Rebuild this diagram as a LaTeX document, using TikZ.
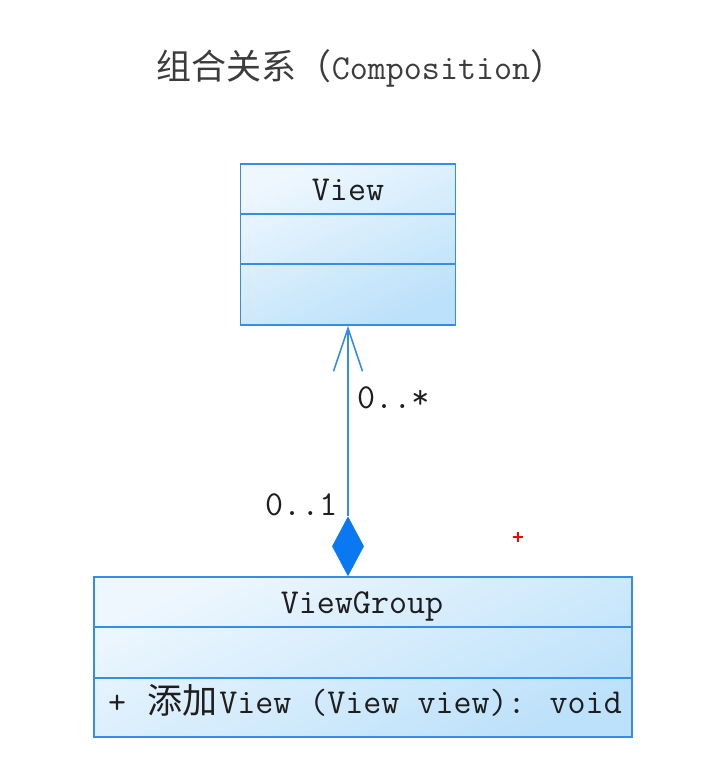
\documentclass[tikz,border=0pt]{standalone}
\usepackage{fontspec}
\newfontfamily\cjk{Noto Sans CJK SC}
\usetikzlibrary{shapes.geometric,arrows.meta,calc}
\definecolor{umlline}{RGB}{55,140,230}
\definecolor{umldiam}{RGB}{10,120,240}
\definecolor{filltop}{RGB}{238,247,254}
\definecolor{fillbot}{RGB}{188,225,250}
\definecolor{txt}{RGB}{30,30,30}
\definecolor{titletxt}{RGB}{60,60,60}
\tikzset{
  classbox/.style={rectangle, draw=umlline, line width=1.6pt, top color=filltop, bottom color=fillbot, shading angle=25, inner sep=0pt},
  divider/.style={draw=umlline, line width=1.6pt},
  umltext/.style={font=\ttfamily\fontsize{35}{40}\selectfont, text=txt, inner sep=0pt},
  titletext/.style={font=\ttfamily\fontsize{35}{40}\selectfont, text=titletxt, inner sep=0pt},
  assoc/.style={draw=umlline, line width=1.8pt, -{Straight Barb[length=43pt, width=29pt, line width=1.6pt]}},
  compdiamond/.style={diamond, fill=umldiam, draw=none, inner sep=0pt, minimum width=32pt, minimum height=60pt, aspect=0.53},
}
\begin{document}
\begin{tikzpicture}[x=1pt,y=-1pt]
\useasboundingbox (0,0) rectangle (703,770);
% title
\node[titletext, anchor=base] (title) at (361,80) {{\cjk 组合关系（}Composition{\cjk ）}};
% View class
\node[classbox, minimum width=215pt, minimum height=161pt] (view) at (348,244.5) {};
\draw[divider] (view.west |- 0,214) coordinate (vd1a) -- (view.east |- 0,214) coordinate (vd1b);
\draw[divider] (view.west |- 0,264) coordinate (vd2a) -- (view.east |- 0,264) coordinate (vd2b);
\node[umltext, anchor=base] (viewname) at (348,200) {View};
% ViewGroup class
\node[classbox, minimum width=538pt, minimum height=160pt] (vg) at (363,657) {};
\draw[divider] (vg.west |- 0,627) coordinate (gd1a) -- (vg.east |- 0,627) coordinate (gd1b);
\draw[divider] (vg.west |- 0,678) coordinate (gd2a) -- (vg.east |- 0,678) coordinate (gd2b);
\node[umltext, anchor=base] (vgname) at (362,613) {ViewGroup};
\node[umltext, anchor=base west] (vgop) at (108,713) {+ \hspace{3pt}{\cjk\fontsize{35}{40}\selectfont 添加}\hspace{2pt}View (View view): void};
% composition
\node[compdiamond, anchor=south] (dia) at (348,576.5) {};
\draw[assoc] (dia.north) -- (view.south -| dia.north);
\node[umltext, anchor=base west] (mult1) at (357,408) {0..*};
\node[umltext, anchor=base west] (mult2) at (265,515) {0..1};
% red cursor mark
\draw[red, line width=1.3pt] (513,537) -- (523,537) (518,532) -- (518,542);
\end{tikzpicture}
\end{document}
